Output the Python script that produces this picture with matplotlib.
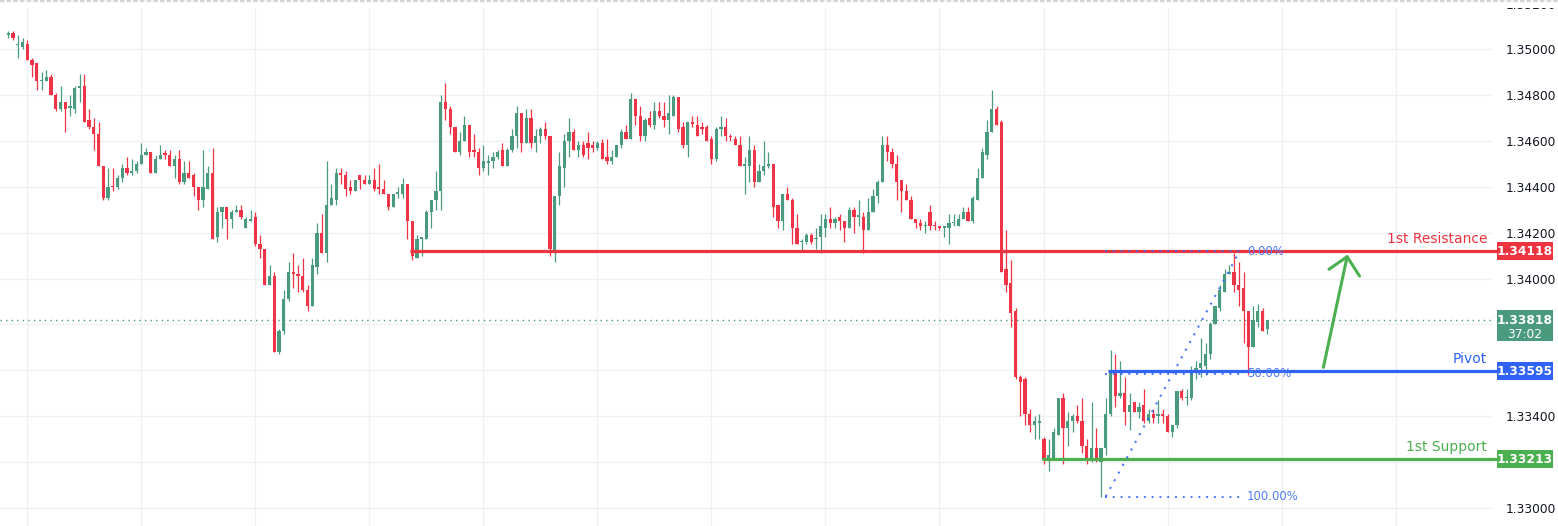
import matplotlib
matplotlib.use('Agg')
import matplotlib.pyplot as plt
import matplotlib.transforms as mtransforms
from matplotlib.patches import Rectangle
from matplotlib.lines import Line2D
import numpy as np

# ---------------- data ----------------
opens = [1.3506,1.3507,1.35018,1.3501,1.3502,1.3495,1.3494,1.3486,1.3486,1.3488,
 1.3480,1.3474,1.3477,1.34745,1.3474,1.3483,1.3484,1.3469,1.3466,1.3463,
 1.3449,1.3435,1.34405,1.3440,1.3444,1.3448,1.3446,1.3447,1.3450,1.3454,
 1.3455,1.3446,1.3452,1.34545,1.3454,1.3449,1.3452,1.3442,1.3446,1.3445,
 1.3440,1.3434,1.3439,1.3446,1.3418,1.3429,1.3431,1.3426,1.3429,1.3430,
 1.3422,1.3425,1.3427,1.3415,1.3413,1.3397,1.3401,1.3368,1.3377,1.3391,
 1.3403,1.3402,1.3401,1.3395,1.3388,1.3405,1.3420,1.3411,1.3432,1.3434,
 1.3446,1.3445,1.3440,1.3438,1.3445,1.3443,1.3441,1.3443,1.3440,1.3439,
 1.3437,1.3431,1.3437,1.3437,1.3441,1.3425,1.3409,1.34172,1.3417,1.3429,
 1.3434,1.3438,1.3477,1.3474,1.3466,1.3455,1.3460,1.3467,1.3456,1.3455,
 1.3448,1.34505,1.3451,1.3453,1.3456,1.3449,1.3456,1.3462,1.3472,1.3459,
 1.3470,1.3459,1.3462,1.3465,1.3462,1.3412,1.3436,1.3448,1.3460,1.3464,
 1.3456,1.3458,1.3459,1.3458,1.3457,1.3459,1.3453,1.3451,1.3453,1.3458,
 1.3464,1.3461,1.3478,1.3471,1.3462,1.3470,1.3467,1.3473,1.3471,1.3469,
 1.3471,1.3479,1.3466,1.3458,1.3468,1.3467,1.3466,1.3466,1.3461,1.3452,
 1.3465,1.3466,1.3462,1.3461,1.3458,1.3449,1.3449,1.3456,1.3442,1.3447,
 1.3449,1.3450,1.3432,1.3425,1.3437,1.3434,1.3422,1.3416,1.3416,1.3419,
 1.3417,1.3418,1.3422,1.3426,1.3424,1.3427,1.3425,1.3422,1.3430,1.3427,
 1.3427,1.3421,1.3429,1.3436,1.3442,1.3458,1.3455,1.3450,1.3443,1.3438,
 1.3434,1.3426,1.3424,1.3423,1.3429,1.34235,1.3423,1.3422,1.3422,1.3424,
 1.3423,1.3426,1.3429,1.3425,1.3434,1.3444,1.3454,1.3464,1.3474,1.3468,
 1.3404,1.3398,1.3386,1.3357,1.3356,1.3341,1.3336,1.3337,1.3330,1.3321,
 1.3322,1.3332,1.3348,1.3335,1.3338,1.3340,1.3338,1.3327,1.3321,1.3326,
 1.3320,1.3326,1.3341,1.3359,1.3349,1.3350,1.3342,1.3346,1.3342,1.3345,
 1.3338,1.3341,1.3340,1.3341,1.3340,1.3333,1.3336,1.3351,1.3348,1.3348,
 1.3360,1.3361,1.3362,1.3367,1.3380,1.3387,1.3394,1.3402,1.3403,1.3397,
 1.3396,1.3386,1.3370,1.3381,1.3386,1.3378]
highs = [1.3508,1.3508,1.3506,1.3505,1.3504,1.3496,1.3494,1.3490,1.3491,1.3489,
 1.3481,1.3484,1.3477,1.3480,1.3484,1.3489,1.3489,1.3474,1.3470,1.3468,
 1.3449,1.3448,1.3448,1.3445,1.3450,1.3453,1.3452,1.3451,1.3459,1.3457,
 1.3455,1.3454,1.3458,1.3456,1.3456,1.3454,1.3456,1.3451,1.3451,1.3446,
 1.3440,1.3456,1.3449,1.3457,1.3431,1.3431,1.3431,1.3430,1.3432,1.3432,
 1.3427,1.3430,1.3429,1.3419,1.3413,1.3406,1.3403,1.3378,1.3395,1.3407,
 1.3411,1.3406,1.3409,1.3397,1.3409,1.3424,1.3428,1.3451,1.3441,1.3448,
 1.3448,1.3447,1.3443,1.3443,1.3445,1.3445,1.3445,1.3448,1.3450,1.3443,
 1.3437,1.3437,1.3440,1.3444,1.3441,1.3425,1.3419,1.3418,1.3430,1.3434,
 1.3447,1.3480,1.3485,1.3475,1.3466,1.3464,1.3471,1.3467,1.3463,1.3457,
 1.3458,1.3454,1.3455,1.3456,1.3459,1.3457,1.3465,1.3475,1.3472,1.3474,
 1.3474,1.3465,1.3466,1.3468,1.3462,1.3436,1.3455,1.3463,1.3470,1.3465,
 1.3460,1.3460,1.3464,1.3460,1.3460,1.3461,1.3461,1.3456,1.3458,1.3465,
 1.3467,1.3481,1.3478,1.3475,1.3470,1.3473,1.3477,1.3477,1.3477,1.3480,
 1.3480,1.3479,1.3468,1.3468,1.3471,1.3471,1.3468,1.3467,1.3462,1.3466,
 1.3471,1.3470,1.3463,1.3462,1.3462,1.3453,1.3462,1.3458,1.3450,1.3460,
 1.3455,1.3450,1.3432,1.3437,1.3440,1.3435,1.3428,1.3417,1.3420,1.3420,
 1.3422,1.3428,1.3428,1.3431,1.3427,1.3428,1.3425,1.3431,1.3431,1.3434,
 1.3429,1.3435,1.3439,1.3443,1.3462,1.3462,1.3457,1.3454,1.3443,1.3441,
 1.3436,1.3426,1.3426,1.3425,1.3432,1.3425,1.3423,1.3423,1.3428,1.3428,
 1.3428,1.3431,1.3431,1.3436,1.3448,1.3457,1.3469,1.3482,1.3475,1.3469,
 1.3421,1.3408,1.3387,1.3358,1.3357,1.3343,1.3340,1.3341,1.3331,1.3330,
 1.3335,1.3348,1.3350,1.3342,1.3341,1.3345,1.3348,1.3330,1.3346,1.3335,
 1.3326,1.3348,1.3369,1.3367,1.3364,1.3357,1.3350,1.3346,1.3346,1.3352,
 1.3343,1.3343,1.3347,1.3343,1.3341,1.3336,1.3351,1.3352,1.3352,1.3362,
 1.3364,1.3374,1.3372,1.3381,1.3388,1.3397,1.3404,1.3406,1.3411,1.3407,
 1.3403,1.3386,1.3388,1.3389,1.3387,1.3382]
lows = [1.3505,1.3504,1.3496,1.3500,1.3495,1.3488,1.3482,1.3482,1.3486,1.3480,
 1.3473,1.3473,1.3464,1.3471,1.3472,1.3477,1.3468,1.3465,1.3456,1.3449,
 1.3434,1.3434,1.3438,1.3439,1.3442,1.3445,1.3445,1.3446,1.3450,1.3454,
 1.3446,1.3446,1.3452,1.3452,1.3449,1.3444,1.3441,1.3441,1.3444,1.3436,
 1.3430,1.3431,1.3439,1.3417,1.3416,1.3422,1.3417,1.3422,1.3429,1.3426,
 1.3422,1.3425,1.3414,1.3409,1.3397,1.3397,1.3368,1.3367,1.3376,1.3390,
 1.3396,1.3394,1.3394,1.3386,1.3388,1.3402,1.3411,1.3407,1.3432,1.3432,
 1.3441,1.3436,1.3437,1.3438,1.3439,1.3441,1.3441,1.3438,1.3437,1.3437,
 1.3430,1.3431,1.3435,1.3435,1.3417,1.3408,1.3409,1.3410,1.3417,1.3422,
 1.3430,1.3430,1.3469,1.3463,1.3455,1.3454,1.3460,1.3453,1.3453,1.3445,
 1.3447,1.3445,1.3448,1.3452,1.3449,1.3449,1.3455,1.3457,1.3455,1.3459,
 1.3457,1.3455,1.3459,1.3461,1.3410,1.3407,1.3432,1.3440,1.3453,1.3456,
 1.3453,1.3453,1.3452,1.3455,1.3456,1.3452,1.3450,1.3450,1.3453,1.3457,
 1.3461,1.3461,1.3467,1.3460,1.3460,1.3466,1.3465,1.3470,1.3466,1.3463,
 1.3471,1.3464,1.3457,1.3453,1.3466,1.3462,1.3463,1.3460,1.3450,1.3451,
 1.3462,1.3460,1.3460,1.3458,1.3449,1.3437,1.3442,1.3440,1.3442,1.3445,
 1.3448,1.3427,1.3422,1.3421,1.3434,1.3415,1.3415,1.3412,1.3415,1.3415,
 1.3413,1.3411,1.3418,1.3422,1.3422,1.3421,1.3416,1.3422,1.3420,1.3423,
 1.3411,1.3421,1.3429,1.3433,1.3442,1.3451,1.3448,1.3434,1.3429,1.3434,
 1.3426,1.3422,1.3421,1.3420,1.3421,1.3421,1.3421,1.3418,1.3415,1.3423,
 1.3423,1.3426,1.3425,1.3424,1.3434,1.3444,1.3452,1.3464,1.3467,1.3403,
 1.3394,1.3379,1.3356,1.3340,1.3336,1.3333,1.3330,1.3330,1.3319,1.3316,
 1.3322,1.3332,1.3319,1.3327,1.3333,1.3337,1.3324,1.3319,1.3320,1.3320,
 1.3305,1.3323,1.3340,1.3344,1.3348,1.3336,1.3334,1.3342,1.3339,1.3337,
 1.3337,1.3337,1.3337,1.3337,1.3333,1.3331,1.3335,1.3347,1.3345,1.3347,
 1.3356,1.3357,1.3358,1.3365,1.3380,1.3386,1.3394,1.3402,1.3394,1.3388,
 1.3372,1.3358,1.3370,1.3379,1.3377,1.3376]
closes = [1.3507,1.3505,1.3502,1.3503,1.3495,1.3493,1.3486,1.34865,1.3488,1.3480,
 1.3474,1.3477,1.3474,1.3475,1.3483,1.3484,1.3468,1.3466,1.3463,1.3449,
 1.3435,1.3440,1.3440,1.3444,1.3448,1.3446,1.3447,1.3450,1.3454,1.3455,
 1.3446,1.3452,1.3454,1.3454,1.3449,1.3452,1.3442,1.3446,1.3444,1.3440,
 1.3434,1.3440,1.3446,1.3417,1.3429,1.3431,1.3426,1.3429,1.3430,1.3427,
 1.3426,1.3426,1.3415,1.3413,1.3397,1.3401,1.3368,1.3377,1.3391,1.3403,
 1.3402,1.3401,1.3395,1.3388,1.3406,1.3420,1.3411,1.3432,1.3435,1.3446,
 1.3445,1.3439,1.3438,1.3443,1.3443,1.3441,1.3443,1.3439,1.3439,1.3437,
 1.3431,1.3437,1.34375,1.3441,1.3425,1.3410,1.3417,1.3418,1.3429,1.3434,
 1.3438,1.3477,1.3474,1.3466,1.3455,1.3460,1.3467,1.3455,1.3455,1.3448,
 1.3451,1.3451,1.3453,1.3455,1.3449,1.3456,1.3462,1.3472,1.3459,1.3470,
 1.3459,1.3462,1.3465,1.3462,1.3413,1.3436,1.3449,1.3460,1.3464,1.3456,
 1.3458,1.3454,1.3457,1.3457,1.3459,1.3452,1.3451,1.3453,1.3458,1.3464,
 1.3461,1.3478,1.3471,1.3462,1.3469,1.3467,1.3473,1.3471,1.3469,1.3472,
 1.3479,1.3465,1.3458,1.3468,1.34675,1.3462,1.3465,1.3460,1.3452,1.3465,
 1.3466,1.3462,1.34615,1.3458,1.3449,1.3450,1.3456,1.3442,1.3447,1.3449,
 1.3450,1.3431,1.3425,1.3437,1.3434,1.3422,1.3415,1.34165,1.3419,1.3416,
 1.34175,1.3423,1.3426,1.3424,1.3426,1.3425,1.3422,1.3430,1.3427,1.34275,
 1.3421,1.3429,1.3436,1.3442,1.3458,1.3455,1.3450,1.3442,1.3438,1.3434,
 1.3426,1.3424,1.3423,1.34235,1.3423,1.3423,1.3422,1.3423,1.3424,1.34245,
 1.3426,1.3429,1.3425,1.3435,1.3444,1.3455,1.3464,1.3474,1.3467,1.3403,
 1.3397,1.3385,1.3357,1.3355,1.3341,1.3336,1.3338,1.3338,1.3321,1.3323,
 1.3333,1.3348,1.3335,1.3338,1.3340,1.3338,1.3327,1.3321,1.3326,1.3321,
 1.3326,1.3341,1.3359,1.3349,1.3350,1.3342,1.3345,1.3342,1.3344,1.3338,
 1.3341,1.3339,1.3341,1.3340,1.3333,1.3336,1.3351,1.3348,1.33485,1.3360,
 1.3361,1.3363,1.3367,1.3380,1.3388,1.3395,1.3402,1.3403,1.3397,1.3395,
 1.3386,1.3370,1.3382,1.3386,1.3377,1.33818]

price_ticks = [1.330, 1.332, 1.334, 1.336, 1.338, 1.340, 1.342, 1.344, 1.346, 1.348, 1.350]
tick_labels = ['1.33000', '', '1.33400', '', '', '1.34000', '1.34200', '1.34400', '1.34600', '1.34800', '1.35000']
top_tick, top_label = 1.352, '1.35200'
grid_candles = [4, 28, 52, 76, 100, 124, 148, 172, 196, 218, 244, 268, 292]

resistance = 1.34118
pivot = 1.33595
support = 1.33213
last_price = 1.33818
countdown = '37:02'
res_start, pivot_start, sup_start = 84.5, 231.5, 217.6

fib_high, fib_low = 1.34118, 1.3305
fib_levels = [0.0, 0.5, 1.0]
fib_labels = ['0.00%', '50.00%', '100.00%']
fib_x0, fib_x1 = 230.8, 259.2

arrow_x = [277.97, 281.8, 284.4]
arrow_y = [1.34040, 1.34095, 1.34011]
arrow_tail = (276.8, 1.33613)

# ---------------- style ----------------
UP = '#4a9a7e'
DOWN = '#ee3446'
RED = '#ec3340'
BLUE = '#2f62f5'
GREEN = '#4caf50'
GRID = '#f0f1f4'

W, H = 1558, 526
TOP = 8          # pane starts 8 px below the top edge
AX_R = 1493
fig = plt.figure(figsize=(W / 100, H / 100), dpi=100)
ax = fig.add_axes([0, 0, AX_R / W, (H - TOP) / H])

o = np.array(opens); h = np.array(highs); l = np.array(lows); c = np.array(closes)
n = len(o)
x = np.arange(n)
cols = np.where(c >= o, UP, DOWN)

x0 = (0 - 8.3) / 4.751
x1 = (AX_R - 8.3) / 4.751
ax.set_xlim(x0, x1)
ppx = 0.02 / 459.0
ymin = 1.35 - (H - 49) * ppx
ymax = 1.35 + (49 - TOP) * ppx
ax.set_ylim(ymin, ymax)

ax.vlines(x, l, h, colors=cols, lw=0.9, zorder=3)
body_lo = np.minimum(o, c)
body_h = np.maximum(np.abs(c - o), ppx * 1.2)
ax.bar(x, body_h, bottom=body_lo, width=0.68, color=cols, linewidth=0, zorder=4)

# grid / ticks
ax.set_yticks(price_ticks)
ax.set_yticklabels(tick_labels)
ax.yaxis.tick_right()
ax.tick_params(axis='y', length=0, pad=9.4, labelsize=8.8, labelcolor='#131722')
ax.set_xticks(grid_candles)
ax.tick_params(axis='x', length=0, labelbottom=False)
ax.grid(True, color=GRID, lw=1.0, zorder=0)
for s in ax.spines.values():
    s.set_visible(False)

# clipped top label (as in the reference, only its lower part shows)
trans = mtransforms.blended_transform_factory(fig.transFigure, ax.transData)
tl = fig.text(1506 / W, top_tick - 2 * ppx, top_label, transform=trans, fontsize=8.8,
              color='#131722', ha='left', va='center')
tl.set_clip_box(mtransforms.Bbox.from_extents(1490, 0, W, H - TOP))
tl.set_clip_on(True)

# thin grey border at the very top
fig.add_artist(Line2D([0, 1], [1 - 1 / H, 1 - 1 / H], transform=fig.transFigure,
                      color='#d4d4d4', lw=1.6, ls=(0, (2, 1))))

# current price dotted line
ax.axhline(last_price, color=UP, lw=1.0, ls=(0, (1, 3)), zorder=2)

# levels
for start, lvl, col in [(res_start, resistance, RED), (sup_start, support, GREEN), (pivot_start, pivot, BLUE)]:
    ax.plot([start, x1 + 1], [lvl, lvl], color=col, lw=2.3, zorder=5, solid_capstyle='butt', clip_on=False)

lab_x = (1487 - 8.3) / 4.751
ax.text(lab_x, resistance + 12 * ppx, '1st Resistance', color=RED, fontsize=10, ha='right', va='center', zorder=6)
ax.text(lab_x, pivot + 12 * ppx, 'Pivot', color=BLUE, fontsize=10, ha='right', va='center', zorder=6)
ax.text(lab_x, support + 12 * ppx, '1st Support', color=GREEN, fontsize=10, ha='right', va='center', zorder=6)

# fib retracement
for lv, lab in zip(fib_levels, fib_labels):
    p = fib_high - lv * (fib_high - fib_low)
    ax.plot([fib_x0, fib_x1], [p, p], color=BLUE, lw=1.4, ls=(0, (1, 3)), zorder=7, alpha=0.85)
    ax.text((1247 - 8.3) / 4.751, p, lab, color='#4f7cf2', fontsize=8.4, ha='left', va='center', zorder=7)
ax.plot([fib_x0 + 0.2, fib_x1 - 0.4], [fib_low, fib_high - 3 * ppx], color=BLUE, lw=1.5, ls=(0, (1, 3.2)), zorder=7, alpha=0.85)

# arrow
ax.plot([arrow_tail[0], arrow_x[1]], [arrow_tail[1], arrow_y[1]], color=GREEN, lw=2.2, solid_capstyle='round', zorder=6)
ax.plot(arrow_x, arrow_y, color=GREEN, lw=2.2, solid_capstyle='round', solid_joinstyle='round', zorder=6)

# price boxes on axis
bx0, bw = 1497 / W, 56 / W


def box(price, col, txt, top_px=9, bot_px=9, sub=None):
    r = Rectangle((bx0, price - bot_px * ppx), bw, (top_px + bot_px) * ppx, transform=trans,
                  facecolor=col, edgecolor='none', clip_on=False, zorder=10)
    fig.add_artist(r)
    fig.text(bx0 + bw / 2, price, txt, transform=trans, color='white', fontsize=8.8,
             fontweight='bold', ha='center', va='center', zorder=11)
    if sub:
        fig.text(bx0 + bw / 2, price - 14 * ppx, sub, transform=trans, color='white',
                 fontsize=8.8, ha='center', va='center', zorder=11)


box(resistance, RED, '1.34118')
box(pivot, BLUE, '1.33595')
box(support, GREEN, '1.33213')
box(last_price, UP, '1.33818', top_px=10, bot_px=21, sub=countdown)

fig.savefig('out.png', dpi=100)
